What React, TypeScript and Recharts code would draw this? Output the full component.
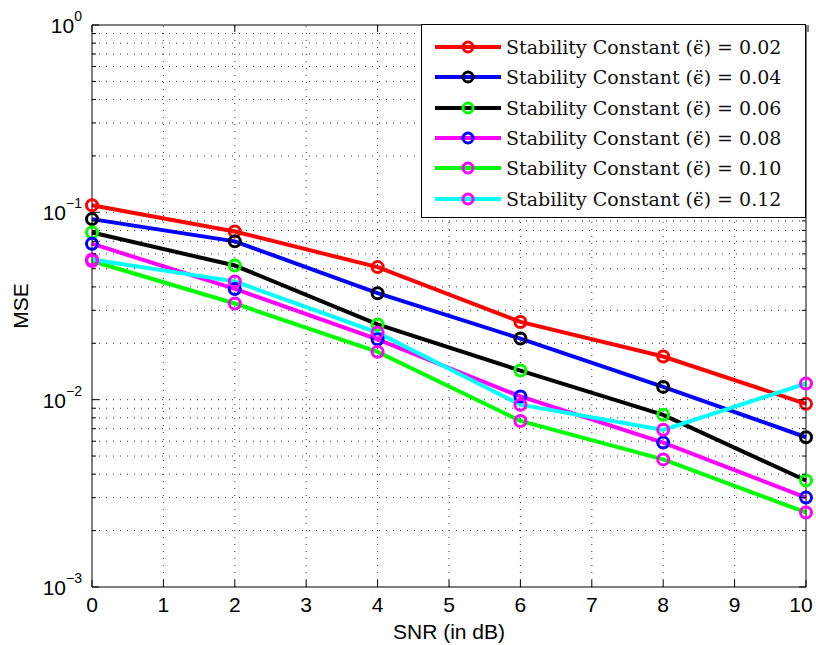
import React from "react";
import {
  LineChart,
  Line,
  XAxis,
  YAxis,
  Legend,
  ReferenceLine,
  Label,
} from "recharts";

const snrValues = [0, 2, 4, 6, 8, 10];

const mse002 = [0.109, 0.079, 0.051, 0.026, 0.017, 0.0095];
const mse004 = [0.092, 0.07, 0.037, 0.0212, 0.0117, 0.0063];
const mse006 = [0.078, 0.052, 0.0252, 0.0143, 0.0083, 0.0037];
const mse008 = [0.068, 0.039, 0.021, 0.0104, 0.0059, 0.003];
const mse010 = [0.055, 0.0326, 0.018, 0.0077, 0.0048, 0.0025];
const mse012 = [0.056, 0.0428, 0.0228, 0.0094, 0.0069, 0.0122];

const xTicks = [0, 1, 2, 3, 4, 5, 6, 7, 8, 9, 10];
const yMajor = [0.001, 0.01, 0.1, 1];
const yExponents = ["\u22123", "\u22122", "\u22121", "0"];

const gridX = [1, 2, 3, 4, 5, 6, 7, 8, 9];
const gridY = [
  0.002, 0.003, 0.004, 0.005, 0.006, 0.007, 0.008, 0.009, 0.01,
  0.02, 0.03, 0.04, 0.05, 0.06, 0.07, 0.08, 0.09, 0.1,
  0.2, 0.3, 0.4, 0.5, 0.6, 0.7, 0.8, 0.9,
];
const yAllTicks = [0.001, ...gridY, 1];

const SERIES = [
  { key: "s002", label: "0.02", values: mse002, line: "#ff0000", marker: "#ff0000" },
  { key: "s004", label: "0.04", values: mse004, line: "#0000ff", marker: "#000000" },
  { key: "s006", label: "0.06", values: mse006, line: "#000000", marker: "#00ff00" },
  { key: "s008", label: "0.08", values: mse008, line: "#ff00ff", marker: "#0000ff" },
  { key: "s010", label: "0.10", values: mse010, line: "#00ff00", marker: "#ff00ff" },
  { key: "s012", label: "0.12", values: mse012, line: "#00ffff", marker: "#ff00ff" },
];

const data = snrValues.map((snr, i) => {
  const row: Record<string, number> = { snr };
  SERIES.forEach((s) => {
    row[s.key] = s.values[i];
  });
  return row;
});

const SANS = "'Liberation Sans', Arial, sans-serif";
const SERIF = "'DejaVu Serif', serif";

const LeftTick = (props: any) => {
  const { x, y, payload } = props;
  const idx = yMajor.indexOf(payload.value);
  const major = idx >= 0;
  return (
    <g>
      <line x1={x} x2={x + (major ? 7 : 4)} y1={y} y2={y} stroke="#000" />
      {major && (
        <text x={x - 10} y={y + 8} textAnchor="end" fontFamily={SANS} fill="#000">
          <tspan fontSize={21}>10</tspan>
          <tspan fontSize={14} dy={-12}>
            {yExponents[idx]}
          </tspan>
        </text>
      )}
    </g>
  );
};

const RightTick = (props: any) => {
  const { x, y, payload } = props;
  const major = yMajor.indexOf(payload.value) >= 0;
  return <line x1={x} x2={x - (major ? 7 : 4)} y1={y} y2={y} stroke="#000" />;
};

const BottomTick = (props: any) => {
  const { x, y, payload } = props;
  // the last label sits a little left, as in the reference
  const shift = payload.value === 10 ? -5 : 0;
  return (
    <g>
      <line x1={x} x2={x} y1={y} y2={y - 7} stroke="#000" />
      <text
        x={x + shift}
        y={y + 25}
        textAnchor="middle"
        fontFamily={SANS}
        fontSize={21}
        fill="#000"
      >
        {payload.value}
      </text>
    </g>
  );
};

const TopTick = (props: any) => {
  const { x, y } = props;
  return <line x1={x} x2={x} y1={y} y2={y + 7} stroke="#000" />;
};

const LegendBox = () => (
  <div
    style={{
      border: "1px solid #000",
      background: "#fff",
      width: 383,
      height: 185,
      boxSizing: "content-box",
      paddingTop: 7,
    }}
  >
    {SERIES.map((s) => (
      <div
        key={s.key}
        style={{ display: "flex", alignItems: "center", height: 30.3 }}
      >
        <svg width={84} height={20} style={{ flex: "none" }}>
          <line x1={13} x2={79} y1={10} y2={10} stroke={s.line} strokeWidth={4} />
          <circle cx={46} cy={10} r={5} fill="none" stroke={s.marker} strokeWidth={3} />
        </svg>
        <span
          style={{
            fontFamily: SERIF,
            fontSize: 19,
            color: "#111",
            whiteSpace: "nowrap",
          }}
        >
          {"Stability Constant (\u03F5\u0308) = " + s.label}
        </span>
      </div>
    ))}
  </div>
);

export default function App() {
  return (
    <div style={{ position: "absolute", left: 0, top: 0, background: "#fff" }}>
      <LineChart
        width={816}
        height={645}
        data={data}
        margin={{ top: 24, right: 9, left: 32, bottom: 18 }}
      >
        {gridX.map((v) => (
          <ReferenceLine
            key={"gx" + v}
            x={v}
            stroke="#333"
            strokeDasharray="1 6"
            strokeWidth={1}
          />
        ))}
        {gridY.map((v) => (
          <ReferenceLine
            key={"gy" + v}
            y={v}
            stroke="#333"
            strokeDasharray="1 6"
            strokeWidth={1}
          />
        ))}
        <XAxis
          dataKey="snr"
          type="number"
          domain={[0, 10]}
          ticks={xTicks}
          height={40}
          stroke="#000"
          tickLine={false}
          tickSize={0}
          tickMargin={0}
          tick={<BottomTick />}
        >
          <Label
            value="SNR (in dB)"
            position="insideBottom"
            offset={-12}
            style={{ fontSize: 21, fontFamily: SANS, fill: "#000" }}
          />
        </XAxis>
        <XAxis
          xAxisId="top"
          orientation="top"
          type="number"
          domain={[0, 10]}
          ticks={xTicks}
          height={1}
          stroke="#000"
          tickLine={false}
          tickSize={0}
          tickMargin={0}
          tick={<TopTick />}
        />
        <YAxis
          scale="log"
          domain={[0.001, 1]}
          ticks={yAllTicks}
          interval={0}
          allowDataOverflow
          width={60}
          stroke="#000"
          tickLine={false}
          tickSize={0}
          tickMargin={0}
          tick={<LeftTick />}
        >
          <Label
            value="MSE"
            angle={-90}
            position="insideLeft"
            offset={-11}
            style={{ fontSize: 21, fontFamily: SANS, fill: "#000", textAnchor: "middle" }}
          />
        </YAxis>
        <YAxis
          yAxisId="right"
          orientation="right"
          scale="log"
          domain={[0.001, 1]}
          ticks={yAllTicks}
          interval={0}
          allowDataOverflow
          width={1}
          stroke="#000"
          tickLine={false}
          tickSize={0}
          tickMargin={0}
          tick={<RightTick />}
        />
        {SERIES.map((s) => (
          <Line
            key={s.key}
            type="linear"
            dataKey={s.key}
            stroke={s.line}
            strokeWidth={4}
            dot={{ r: 5.5, fill: "none", stroke: s.marker, strokeWidth: 3 }}
            activeDot={false}
            isAnimationActive={false}
          />
        ))}
        <Legend
          layout="vertical"
          align="center"
          verticalAlign="middle"
          content={() => <LegendBox />}
          wrapperStyle={{ left: 421, top: 24, width: 385 }}
        />
      </LineChart>
    </div>
  );
}
